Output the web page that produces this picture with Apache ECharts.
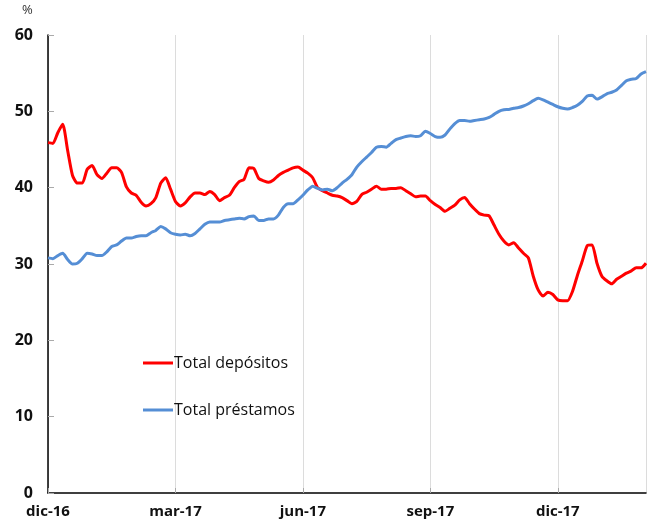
<!DOCTYPE html>
<html>
<head>
<meta charset="utf-8">
<script src="https://cdn.jsdelivr.net/npm/echarts@6/dist/echarts.min.js"></script>
<style>
    html, body { margin: 0; padding: 0; background: #fff; }
    #container { width: 647px; height: 522px; }
</style>
</head>
<body>
<div id="container"></div>
<script>
// semanas (paso de media semana) desde dic-16
let quarterLabels = ['dic-16', 'mar-17', 'jun-17', 'sep-17', 'dic-17'];
let seriesNames = ['Total depósitos', 'Total préstamos'];
let step = 0.5;

let depositos = [
    45.9, 45.8, 47.2, 48.3, 44.9, 41.6, 40.6, 40.6, 42.4, 42.9,
    41.7, 41.2, 41.9, 42.6, 42.6, 42.0, 40.1, 39.3, 39.0, 38.1,
    37.6, 37.9, 38.7, 40.6, 41.3, 39.8, 38.2, 37.6, 38.0, 38.8,
    39.3, 39.3, 39.1, 39.5, 39.1, 38.3, 38.7, 39.0, 40.0, 40.8,
    41.1, 42.6, 42.5, 41.2, 40.9, 40.7, 41.0, 41.6, 42.0, 42.3,
    42.6, 42.7, 42.3, 41.9, 41.3, 40.0, 39.6, 39.3, 39.0, 38.9,
    38.7, 38.3, 37.9, 38.2, 39.1, 39.4, 39.8, 40.2, 39.8, 39.8,
    39.9, 39.9, 40.0, 39.6, 39.2, 38.8, 38.9, 38.9, 38.3, 37.8,
    37.4, 36.9, 37.3, 37.7, 38.4, 38.7, 37.9, 37.2, 36.6, 36.4,
    36.3, 35.1, 33.9, 33.0, 32.5, 32.8, 32.1, 31.4, 30.8, 28.4,
    26.6, 25.8, 26.3, 26.0, 25.3, 25.2, 25.2, 26.4, 28.5, 30.4,
    32.4, 32.5, 30.1, 28.4, 27.8, 27.4, 28.0, 28.4, 28.8, 29.1,
    29.5, 29.5, 30.1
];

let prestamos = [
    30.8, 30.7, 31.1, 31.4, 30.6, 30.0, 30.1, 30.7, 31.4, 31.3,
    31.1, 31.1, 31.6, 32.3, 32.5, 33.0, 33.4, 33.4, 33.6, 33.7,
    33.7, 34.1, 34.4, 34.9, 34.6, 34.1, 33.9, 33.8, 33.9, 33.7,
    34.0, 34.6, 35.2, 35.5, 35.5, 35.5, 35.7, 35.8, 35.9, 36.0,
    35.9, 36.2, 36.3, 35.7, 35.7, 35.9, 35.9, 36.4, 37.4, 37.9,
    37.9, 38.4, 39.0, 39.7, 40.2, 39.9, 39.7, 39.8, 39.6, 40.0,
    40.6, 41.1, 41.7, 42.7, 43.4, 44.0, 44.6, 45.3, 45.4, 45.3,
    45.8, 46.3, 46.5, 46.7, 46.8, 46.7, 46.8, 47.4, 47.1, 46.7,
    46.6, 46.9, 47.7, 48.4, 48.8, 48.8, 48.7, 48.8, 48.9, 49.0,
    49.2, 49.6, 50.0, 50.2, 50.25, 50.4, 50.5, 50.7, 51.0, 51.4,
    51.7, 51.5, 51.2, 50.9, 50.6, 50.4, 50.3, 50.5, 50.8, 51.3,
    52.0, 52.1, 51.6, 51.9, 52.3, 52.5, 52.8, 53.4, 54.0, 54.2,
    54.3, 54.9, 55.2
];

function toPairs(arr) {
    return arr.map(function (v, i) { return [i * step, v]; });
}

let dom = document.getElementById("container");
let myChart = echarts.init(dom);

let axisFont = {
    fontFamily: 'Open Sans, Noto Sans, sans-serif',
    fontWeight: 'bold',
    color: '#111'
};

let option = {
    animation: false,
    color: ['#ff0000', '#558ed5'],
    grid: {
        left: 48,
        right: 1,
        top: 35,
        bottom: 29
    },
    graphic: [{
        type: 'text',
        left: 22,
        top: 4,
        style: {
            text: '%',
            font: '13px Open Sans, Noto Sans, sans-serif',
            fill: '#333'
        }
    }],
    legend: {
        orient: 'vertical',
        left: 143,
        top: 352,
        padding: 0,
        itemWidth: 30,
        itemHeight: 3,
        itemGap: 25,
        icon: 'rect',
        data: seriesNames,
        textStyle: {
            fontFamily: 'Open Sans, Noto Sans, sans-serif',
            fontSize: 16,
            lineHeight: 22,
            color: '#111',
            padding: [0, 0, 0, -4]
        }
    },
    xAxis: {
        type: 'value',
        min: 0,
        max: 61,
        interval: 13,
        axisLine: {
            lineStyle: { color: '#000', width: 1.5 }
        },
        axisTick: {
            inside: true,
            length: 5,
            lineStyle: { color: '#aaa' }
        },
        splitLine: {
            show: true,
            lineStyle: { color: '#dcdcdc', width: 1 }
        },
        axisLabel: Object.assign({
            fontSize: 15,
            margin: 11,
            showMaxLabel: false,
            formatter: function (v) {
                if (v % 13 !== 0) return '';
                return quarterLabels[v / 13] || '';
            }
        }, axisFont)
    },
    yAxis: {
        type: 'value',
        min: 0,
        max: 60,
        interval: 10,
        axisLine: {
            show: true,
            lineStyle: { color: '#000', width: 1.5 }
        },
        axisTick: {
            show: true,
            inside: true,
            length: 6,
            lineStyle: { color: '#aaa' }
        },
        splitLine: { show: false },
        axisLabel: Object.assign({
            fontSize: 16,
            margin: 15
        }, axisFont)
    },
    series: [
        {
            name: seriesNames[0],
            type: 'line',
            showSymbol: false,
            smooth: 0.2,
            lineStyle: { width: 3 },
            data: toPairs(depositos)
        },
        {
            name: seriesNames[1],
            type: 'line',
            showSymbol: false,
            smooth: 0.2,
            lineStyle: { width: 3 },
            data: toPairs(prestamos)
        }
    ]
};

myChart.setOption(option, true);

window.onresize = function () {
    myChart.resize();
};
</script>
</body>
</html>
